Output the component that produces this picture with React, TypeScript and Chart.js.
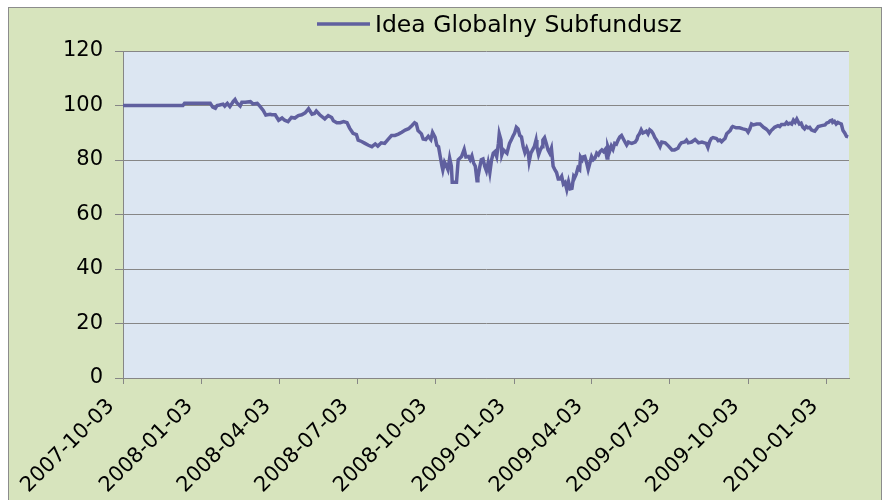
import React, { useEffect, useRef } from "react";
import { Chart, registerables } from "chart.js";

Chart.register(...registerables);

// ---- data ----
const START_DATE = "2007-10-03";
const seriesLabel = "Idea Globalny Subfundusz";
const quarterLabels = [
  "2007-10-03", "2008-01-03", "2008-04-03", "2008-07-03", "2008-10-03",
  "2009-01-03", "2009-04-03", "2009-07-03", "2009-10-03", "2010-01-03",
];
const yTickValues = [0, 20, 40, 60, 80, 100, 120];
const X_MAX_DAY = 849; // last day shown (about 2010-01-29)

// days since 2007-10-03
const dayOffsets = [
  0, 70, 72, 102, 105, 108, 110, 113, 117, 119, 122, 125, 129, 131, 133, 137, 139, 143, 149, 152, 157, 160, 164, 167,
  172, 174, 178, 182, 186, 189, 193, 197, 201, 205, 209, 213, 217, 221, 224, 226, 230, 236, 240, 244, 246, 250, 254, 258, 262, 265, 269, 273, 275, 279, 283, 287, 291, 295, 298, 302, 306, 310, 314, 318, 322, 326, 330, 334, 338, 341,
  343, 345, 349, 351, 354, 357, 360, 362, 365, 367, 369, 371, 373, 374, 376, 378, 380, 382, 384, 385, 388, 390, 392, 396, 399, 401, 404, 406, 408, 410, 412, 414, 415, 417, 419, 421, 423, 425, 427, 429, 431, 433, 435, 437, 439, 440, 442, 443, 445, 449, 452, 454, 456, 458, 460, 462, 464, 466, 468, 470, 472, 474, 475, 477, 479, 481, 483, 484, 486, 488, 490, 491, 493, 495, 497, 499, 501, 503, 505, 507, 509,
  511, 513, 515, 517, 519, 521, 523, 525, 527, 528, 530, 532, 534, 535, 537, 538, 540, 542, 544, 546, 548, 550, 552, 554, 556, 558, 560, 562, 564, 566, 567, 569, 571, 573, 575, 577, 579, 581, 583, 585, 587, 589, 591, 593, 595, 599, 601, 602, 604, 606, 608, 610, 612, 614, 616, 618, 620, 622, 624, 626, 628, 630, 634, 638, 642, 645, 649, 651, 653, 657, 659, 661, 665, 669, 673, 677, 680,
  682, 684, 686, 688, 690, 694, 696, 698, 700, 702, 704, 706, 710, 712, 713, 717, 721, 725, 729, 731, 733, 735, 737, 741, 745, 749, 752, 754, 756, 758, 760, 762, 766, 768, 770, 774, 776, 778, 780, 782, 784, 786, 788, 789, 791, 793, 795, 797, 799, 801, 803, 805, 807, 809, 811, 813, 817, 821, 823, 825, 827, 829, 830, 832, 834, 836, 838, 840, 842, 844, 846, 848,
];

const navValues = [
  100.0, 100.0, 100.8, 100.8, 99.4, 99.0, 100.0, 100.2, 100.5, 99.8, 100.8, 99.6, 101.5, 102.2, 101.0, 99.8, 101.2, 101.2, 101.4, 100.6, 100.8, 99.8, 98.2, 96.5,
  96.8, 96.6, 96.6, 94.6, 95.4, 94.6, 94.1, 95.6, 95.4, 96.3, 96.6, 97.3, 98.8, 96.8, 97.1, 98.0, 96.6, 95.1, 96.3, 95.6, 94.4, 93.7, 93.7, 94.1, 93.7, 91.7, 89.8, 89.3, 87.3, 86.8, 86.1, 85.4, 84.9, 85.9, 85.1, 86.3, 86.1, 87.6, 89.0, 89.0, 89.5, 90.2, 91.0, 91.5, 92.7, 93.7,
  93.3, 90.8, 89.6, 87.7, 87.5, 88.7, 87.5, 90.1, 88.3, 85.4, 84.9, 81.3, 77.7, 76.3, 79.2, 78.0, 76.5, 80.7, 77.7, 71.8, 71.8, 71.8, 80.1, 81.3, 83.9, 81.1, 81.3, 80.1, 81.5, 78.9, 77.7, 72.4, 73.6, 77.1, 80.1, 80.4, 77.7, 76.0, 79.0, 75.4, 80.1, 82.5, 83.1, 81.3, 86.1, 89.6, 87.3, 81.9, 83.7, 82.5, 86.1, 87.3, 88.7, 89.9, 92.0, 91.4, 89.0, 88.5, 84.9, 82.7, 84.3, 82.5, 79.5, 82.5, 83.7, 84.9, 87.3, 84.9, 81.9, 83.7, 84.9, 87.3, 88.2, 86.1, 83.7, 82.5, 84.3, 77.7, 76.5, 75.4, 73.0,
  73.0, 74.0, 71.2, 71.8, 69.2, 72.0, 69.4, 69.6, 73.9, 73.4, 74.8, 77.1, 76.5, 81.1, 80.1, 81.1, 81.3, 79.2, 76.5, 78.9, 81.3, 80.1, 80.7, 82.5, 81.9, 83.1, 83.7, 83.1, 83.9, 80.7, 84.9, 83.1, 85.1, 83.9, 86.1, 85.8, 87.3, 88.5, 89.0, 87.8, 86.6, 85.5, 86.6, 86.3, 86.1, 86.6, 87.5, 88.7, 89.6, 91.1, 89.9, 90.2, 90.6, 89.6, 91.1, 90.6, 89.6, 88.2, 87.3, 86.1, 84.9, 86.6, 86.3, 85.1, 83.7, 83.7, 84.3, 85.5, 86.3, 86.6, 87.3, 86.3, 86.6, 87.5, 86.3, 86.6, 86.3,
  86.1, 84.6, 86.7, 87.9, 88.2, 87.9, 87.1, 87.3, 86.7, 87.3, 87.9, 89.6, 90.8, 92.0, 92.3, 91.8, 91.8, 91.4, 91.1, 90.2, 91.4, 93.2, 92.9, 93.2, 93.2, 92.0, 91.4, 90.8, 89.9, 90.8, 91.4, 92.0, 92.6, 92.3, 93.0, 93.0, 93.8, 93.2, 93.5, 93.2, 94.6, 93.8, 95.0, 94.4, 93.2, 93.5, 92.0, 91.4, 92.3, 91.8, 92.0, 91.1, 90.8, 90.6, 91.4, 92.3, 92.6, 92.9, 93.6, 93.8, 94.4, 94.6, 93.8, 94.2, 93.2, 93.8, 93.5, 93.2, 90.8, 89.9, 88.7, 88.5,
];

const FONT = "'DejaVu Sans', Verdana, sans-serif";
const LINE_COLOR = "#60609F";
const GRID_COLOR = "#868686";

function daysFromStart(d: string): number {
  return Math.round((Date.parse(d) - Date.parse(START_DATE)) / 86400000);
}

export default function App() {
  const ref = useRef<HTMLCanvasElement | null>(null);

  useEffect(() => {
    if (!ref.current) return;
    const quarterDays = quarterLabels.map(daysFromStart);
    const points = dayOffsets.map((d, i) => ({ x: d, y: navValues[i] }));

    const backgroundPlugin = {
      id: "frameBackground",
      beforeDraw(chart: any) {
        const ctx = chart.ctx;
        const a = chart.chartArea;
        ctx.save();
        ctx.fillStyle = "#D7E4BD";
        ctx.fillRect(8, 7, 874, 500);
        ctx.strokeStyle = "#8C8C8C";
        ctx.lineWidth = 1;
        ctx.strokeRect(8.5, 7.5, 873, 520);
        ctx.fillStyle = "#DCE6F2";
        ctx.fillRect(a.left, a.top, a.right - a.left, a.bottom - a.top);
        ctx.restore();
      },
    };

    const legendPlugin = {
      id: "topLegend",
      afterDraw(chart: any) {
        const ctx = chart.ctx;
        const ds = chart.data.datasets[0];
        ctx.save();
        ctx.strokeStyle = ds.borderColor;
        ctx.lineWidth = 3.5;
        ctx.beginPath();
        ctx.moveTo(317, 24);
        ctx.lineTo(370, 24);
        ctx.stroke();
        ctx.fillStyle = "#000";
        ctx.font = `23.5px ${FONT}`;
        ctx.textAlign = "left";
        ctx.textBaseline = "alphabetic";
        ctx.fillText(ds.label, 375, 32);
        ctx.restore();
      },
    };

    const chart = new Chart(ref.current, {
      type: "line",
      data: {
        datasets: [
          {
            label: seriesLabel,
            data: points,
            borderColor: LINE_COLOR,
            backgroundColor: LINE_COLOR,
            borderWidth: 3.5,
            pointRadius: 0,
            tension: 0,
            fill: false,
          },
        ],
      },
      options: {
        animation: false,
        responsive: false,
        layout: { padding: { top: 51, right: 34, left: 0, bottom: 0 } },
        plugins: { legend: { display: false }, tooltip: { enabled: false } },
        scales: {
          x: {
            type: "linear",
            min: 0,
            max: X_MAX_DAY,
            afterBuildTicks(scale: any) {
              scale.ticks = quarterDays.map((v) => ({ value: v }));
            },
            afterFit(scale: any) {
              scale.height = 122;
            },
            ticks: {
              autoSkip: false,
              minRotation: 45,
              maxRotation: 45,
              color: "#000",
              padding: 10,
              labelOffset: -12,
              font: { family: FONT, size: 21 },
              callback: (v: any) => {
                const i = quarterDays.indexOf(Number(v));
                return i >= 0 ? quarterLabels[i] : "";
              },
            },
            grid: { drawOnChartArea: false, drawTicks: true, tickLength: 6, color: GRID_COLOR },
            border: { display: true, color: GRID_COLOR, width: 1 },
          },
          y: {
            min: 0,
            max: 120,
            afterBuildTicks(scale: any) {
              scale.ticks = yTickValues.map((v) => ({ value: v }));
            },
            afterFit(scale: any) {
              scale.width = 123;
            },
            ticks: { color: "#000", padding: 12, font: { family: FONT, size: 21 } },
            grid: { color: GRID_COLOR, tickLength: 8 },
            border: { display: true, color: GRID_COLOR, width: 1 },
          },
        },
      },
      plugins: [backgroundPlugin, legendPlugin],
    } as any);

    return () => chart.destroy();
  }, []);

  return (
    <div style={{ position: "fixed", left: 0, top: 0, width: 883, height: 500, overflow: "hidden" }}>
      <canvas ref={ref} width={883} height={500} style={{ display: "block", width: 883, height: 500 }} />
    </div>
  );
}
